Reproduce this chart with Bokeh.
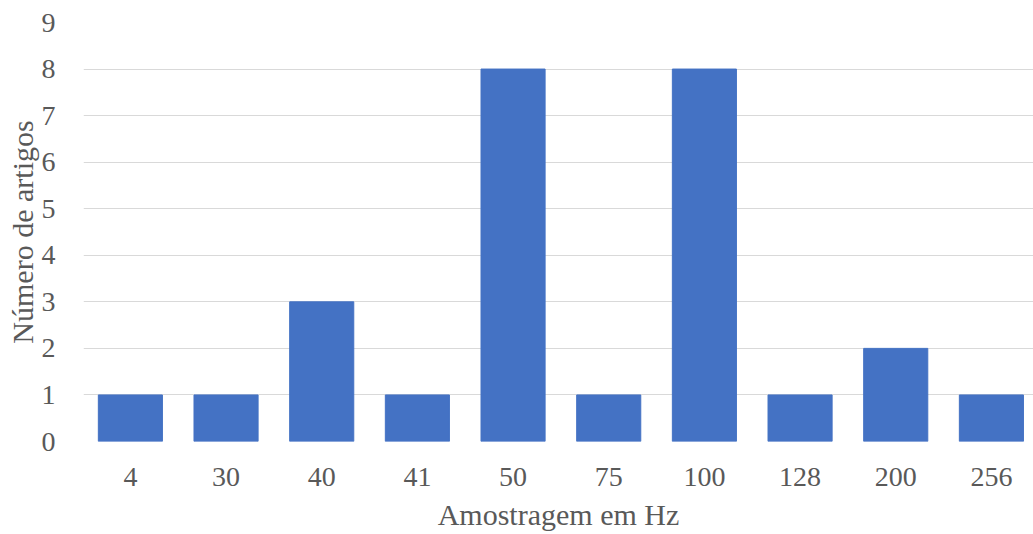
from bokeh.plotting import figure
from bokeh.models import ColumnDataSource, Range1d, FixedTicker
from bokeh.embed import file_html
from bokeh.resources import INLINE

categories = ["4", "30", "40", "41", "50", "75", "100", "128", "200", "256"]
counts = [1, 1, 3, 1, 8, 1, 8, 1, 2, 1]
y_ticks = [0, 1, 2, 3, 4, 5, 6, 7, 8, 9]

pos = list(range(len(categories)))
src = ColumnDataSource(dict(x=pos, val=counts))

p = figure(x_range=Range1d(-0.49, 9.44), y_range=(0, 9), width=1033, height=534,
           output_backend="svg", toolbar_location=None,
           min_border_left=83, min_border_right=0, min_border_top=22, min_border_bottom=93)
p.vbar(x="x", top="val", width=0.67, source=src, color="#4472C4")

font = "Liberation Serif"
txt = "#595959"
for ax in (p.xaxis, p.yaxis):
    ax.axis_line_color = None
    ax.major_tick_line_color = None
    ax.minor_tick_line_color = None
    ax.major_label_text_font = font
    ax.major_label_text_font_size = "28px"
    ax.major_label_text_color = txt
    ax.axis_label_text_font = font
    ax.axis_label_text_font_size = "30px"
    ax.axis_label_text_font_style = "normal"
    ax.axis_label_text_color = txt

p.xaxis.ticker = FixedTicker(ticks=pos)
p.xaxis.major_label_overrides = {i: c for i, c in zip(pos, categories)}
p.yaxis.ticker = y_ticks
p.yaxis.major_label_standoff = 22
p.xaxis.major_label_standoff = 20
p.xaxis.axis_label = "Amostragem em Hz"
p.yaxis.axis_label = "Número de artigos"
p.xaxis.axis_label_standoff = 9
p.yaxis.axis_label_standoff = 0

p.xgrid.grid_line_color = None
p.ygrid.grid_line_color = "#d9d9d9"
p.ygrid.grid_line_width = 1
p.outline_line_color = None
p.background_fill_color = "white"
p.border_fill_color = "white"

open("out.html", "w").write(file_html(p, INLINE))
